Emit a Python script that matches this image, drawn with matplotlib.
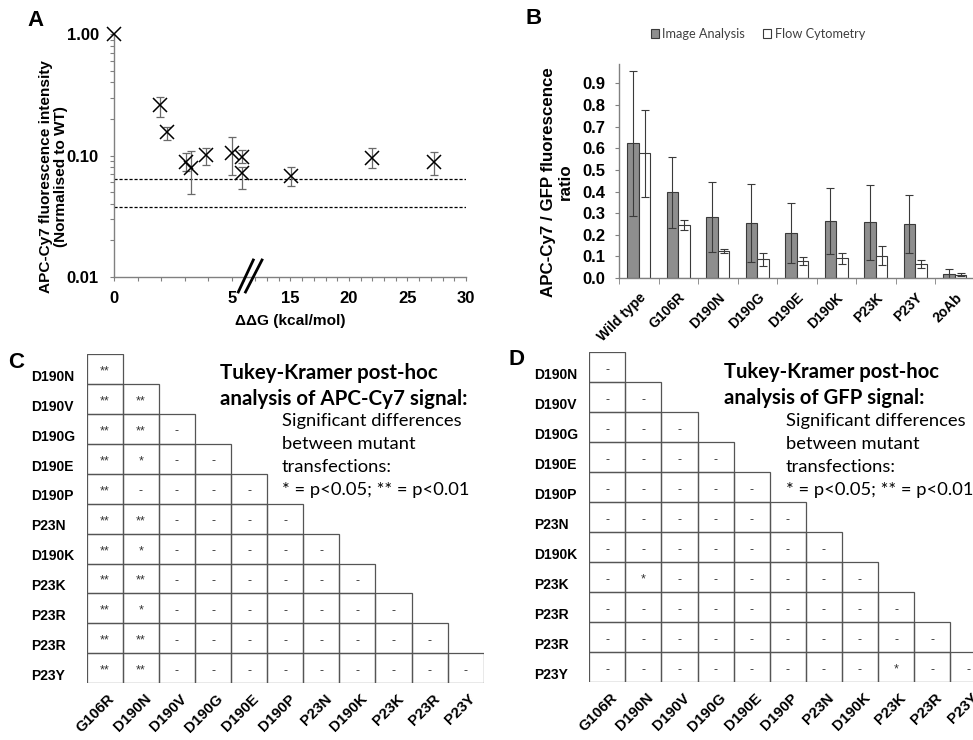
import numpy as np
import matplotlib
matplotlib.use('Agg')
import matplotlib.pyplot as plt
from matplotlib.patches import Rectangle
from matplotlib.lines import Line2D
from matplotlib.ticker import FixedLocator, NullFormatter

# ---------------- Panel A data ----------------
ddg = [0, 1.95, 2.26, 3.04, 3.26, 3.89, 5.0, 10.87, 10.87, 15.05, 22.0, 27.3]
intensity = [1.0, 0.26, 0.155, 0.088, 0.079, 0.101, 0.105, 0.098, 0.0716, 0.068, 0.096, 0.088]
int_upper = [1.0, 0.305, 0.173, 0.105, 0.109, 0.115, 0.142, 0.111, 0.081, 0.081, 0.115, 0.106]
int_lower = [1.0, 0.209, 0.133, 0.074, 0.048, 0.084, 0.069, 0.087, 0.053, 0.056, 0.079, 0.069]
thresholds = [0.0643, 0.0376]
a_xticks = [0, 5, 15, 20, 25, 30]
a_xminor = [0, 1, 2, 3, 4, 5, 11, 12, 13, 14, 15, 16, 17, 18, 19, 20,
            21, 22, 23, 24, 25, 26, 27, 28, 29, 30]
a_yticks = [0.01, 0.1, 1.0]
a_yticklabels = ['0.01', '0.10', '1.00']

# ---------------- Panel B data ----------------
b_categories = ['Wild type', 'G106R', 'D190N', 'D190G', 'D190E', 'D190K', 'P23K', 'P23Y', '2oAb']
image_analysis = [0.623, 0.397, 0.282, 0.254, 0.209, 0.263, 0.257, 0.251, 0.020]
image_err = [0.336, 0.165, 0.160, 0.180, 0.138, 0.152, 0.172, 0.135, 0.023]
flow_cytometry = [0.577, 0.245, 0.125, 0.086, 0.078, 0.091, 0.103, 0.066, 0.015]
flow_err = [0.200, 0.023, 0.011, 0.029, 0.020, 0.025, 0.045, 0.018, 0.008]
b_yticks = [0.0, 0.1, 0.2, 0.3, 0.4, 0.5, 0.6, 0.7, 0.8, 0.9]

# ---------------- Panels C / D data ----------------
mat_rows = ['D190N', 'D190V', 'D190G', 'D190E', 'D190P', 'P23N', 'D190K', 'P23K', 'P23R', 'P23R', 'P23Y']
mat_cols = ['G106R', 'D190N', 'D190V', 'D190G', 'D190E', 'D190P', 'P23N', 'D190K', 'P23K', 'P23R', 'P23Y']
apc_sig = [
    "**",
    "** **",
    "** ** -",
    "** * - -",
    "** - - - -",
    "** ** - - - -",
    "** * - - - - -",
    "** ** - - - - - -",
    "** * - - - - - - -",
    "** ** - - - - - - - -",
    "** ** - - - - - - - - -",
]
gfp_sig = [
    "-",
    "- -",
    "- - -",
    "- - - -",
    "- - - - -",
    "- - - - - -",
    "- - - - - - -",
    "- * - - - - - -",
    "- - - - - - - - -",
    "- - - - - - - - - -",
    "- - - - - - - - * - -",
]

W, H = 973, 740
fig = plt.figure(figsize=(W / 100, H / 100), dpi=100)
ARIAL = 'Liberation Sans'
CALIBRI = 'Lato'
plt.rcParams['font.family'] = [ARIAL, 'DejaVu Sans']
AXCOL = '#808080'


def fbox(left, top, width, height):
    return [left / W, 1 - (top + height) / H, width / W, height / H]


def fit_size(txt, target, vertical=False):
    r = fig.canvas.get_renderer()
    bb = txt.get_window_extent(r)
    cur = bb.height if vertical else bb.width
    txt.set_fontsize(txt.get_fontsize() * target / cur)


# ================= Panel A =================
axA = fig.add_axes(fbox(114, 34, 352, 243))


def fwd(x):
    x = np.asarray(x, float)
    return np.where(x <= 5, x, np.where(x >= 10, 5 + (x - 10) * 0.496, 5.0))


def inv(u):
    u = np.asarray(u, float)
    return np.where(u <= 5, u, 10 + (u - 5) / 0.496)


axA.set_xscale('function', functions=(fwd, inv))
axA.set_yscale('log')
axA.set_xlim(0, 30)
axA.set_ylim(0.01, 1.0)

for t in thresholds:
    axA.axhline(t, color='black', lw=0.9, ls=(0, (2.5, 1.5)))

vals = np.array(intensity)
lo = vals - np.array(int_lower)
hi = np.array(int_upper) - vals
axA.errorbar(ddg[1:], intensity[1:], yerr=[lo[1:], hi[1:]], fmt='none',
             ecolor='#6a6a6a', elinewidth=0.9, capsize=2.6, capthick=0.9)
axA.plot(ddg, intensity, 'x', ms=9.5, mew=1.1, color='black', clip_on=False, zorder=5)

for s in ['top', 'right']:
    axA.spines[s].set_visible(False)
for s in ['left', 'bottom']:
    axA.spines[s].set_color(AXCOL)
    axA.spines[s].set_linewidth(1.0)

axA.xaxis.set_major_locator(FixedLocator(a_xticks))
axA.set_xticklabels([str(v) for v in a_xticks])
axA.xaxis.set_minor_locator(FixedLocator(a_xminor))
axA.xaxis.set_minor_formatter(NullFormatter())
axA.yaxis.set_major_locator(FixedLocator(a_yticks))
axA.set_yticklabels(a_yticklabels)
axA.tick_params(which='both', direction='out', color=AXCOL, length=3, width=0.8)
axA.tick_params(axis='x', which='major', labelsize=12, pad=7)
axA.tick_params(axis='y', which='major', labelsize=12, pad=8)
for lab in axA.get_xticklabels() + axA.get_yticklabels():
    lab.set_fontweight('bold')

tA = axA.text((53.5 - 114) / 352, (277 - 177) / 243,
              'APC-Cy7 fluorescence intensity\n(Normalised to WT)',
              transform=axA.transAxes, rotation=90, ha='center', va='center',
              fontsize=10, fontweight='bold', linespacing=1.15)
fit_size(tA, 233, vertical=True)
tAx = fig.text(290 / W, 1 - 321 / H, 'ΔΔG (kcal/mol)', ha='center', va='center',
               fontsize=10, fontweight='bold')
fit_size(tAx, 110)

# axis-break marks
for x0, x1 in [(238.3, 253.3), (245.5, 262.0)]:
    fig.add_artist(Line2D([x0 / W, x1 / W], [1 - 292 / H, 1 - 260 / H],
                          color='black', lw=2.0))

fig.text(35 / W, 1 - 20 / H, 'A', fontsize=16, fontweight='bold', ha='center', va='center')

# ================= Panel B =================
axB = fig.add_axes(fbox(619, 64, 355.5, 214))
xb = np.arange(len(b_categories))
bw = 0.295
axB.bar(xb - bw / 2, image_analysis, bw, color='#8e8e8e', edgecolor='#3a3a3a', lw=0.8,
        yerr=image_err, error_kw=dict(ecolor='#3a3a3a', elinewidth=0.8, capsize=2.6, capthick=0.8),
        label='Image Analysis')
axB.bar(xb + bw / 2, flow_cytometry, bw, color='white', edgecolor='#3a3a3a', lw=0.8,
        yerr=flow_err, error_kw=dict(ecolor='#3a3a3a', elinewidth=0.8, capsize=2.6, capthick=0.8),
        label='Flow Cytometry')
axB.set_xlim(-0.5, len(b_categories) - 0.5)
axB.set_ylim(0, 0.99)
for s in ['top', 'right']:
    axB.spines[s].set_visible(False)
for s in ['left', 'bottom']:
    axB.spines[s].set_color(AXCOL)
    axB.spines[s].set_linewidth(1.0)
axB.set_yticks(b_yticks)
axB.set_yticklabels(['%.1f' % v for v in b_yticks])
axB.set_xticks(xb)
axB.set_xticklabels(b_categories, rotation=45, ha='right', rotation_mode='anchor')
axB.xaxis.set_minor_locator(FixedLocator(np.arange(len(b_categories) + 1) - 0.5))
axB.tick_params(axis='x', which='major', length=0, pad=9, labelsize=10)
axB.tick_params(axis='x', which='minor', length=4, color=AXCOL, direction='out')
axB.tick_params(axis='y', which='major', length=3, color=AXCOL, direction='out', labelsize=12, pad=7)
for lab in axB.get_xticklabels() + axB.get_yticklabels():
    lab.set_fontweight('bold')

tB = axB.text((557 - 619) / 355.5, (278 - 182) / 214,
              'APC-Cy7 / GFP fluorescence\nratio', transform=axB.transAxes,
              rotation=90, ha='center', va='center', fontsize=11, fontweight='bold',
              linespacing=1.1)
fit_size(tB, 230, vertical=True)

leg = axB.legend(loc='center', bbox_to_anchor=(758 / W, 1 - 34 / H), bbox_transform=fig.transFigure,
                 ncol=2, frameon=False, handlelength=0.6, handleheight=0.6,
                 handletextpad=0.3, columnspacing=1.4,
                 prop={'family': CALIBRI, 'size': 9.2})
for t in leg.get_texts():
    t.set_color('#404040')

fig.text(534 / W, 1 - 18 / H, 'B', fontsize=16, fontweight='bold', ha='center', va='center')


# ================= Panels C & D =================
def draw_matrix(ax, sig):
    n = len(mat_cols)
    for i, rowstr in enumerate(sig):
        for j, s in enumerate(rowstr.split()):
            ax.add_patch(Rectangle((j, i), 1, 1, fill=False, ec='#555555', lw=0.9))
            ax.text(j + 0.5, i + 0.68, s, ha='center', va='baseline', fontsize=9, color='#333333')
    for i, lab in enumerate(mat_rows):
        ax.text(-1.54, i + 0.76, lab, ha='left', va='center', fontsize=10, fontweight='bold')
    for j, lab in enumerate(mat_cols):
        ax.text(j + 0.58, n + 0.27, lab, rotation=45, ha='right', va='top',
                rotation_mode='anchor', fontsize=10.8, fontweight='bold')
    ax.set_xlim(0, n)
    ax.set_ylim(n, 0)
    ax.axis('off')


axC = fig.add_axes(fbox(86.7, 354, 397, 329.3))
draw_matrix(axC, apc_sig)
axD = fig.add_axes(fbox(589.3, 352.3, 397, 330))
draw_matrix(axD, gfp_sig)

for tl, tleft, ttop, sleft, twidth in [
        ('Tukey-Kramer post-hoc\nanalysis of APC-Cy7 signal:', 220, 363, 282, 248),
        ('Tukey-Kramer post-hoc\nanalysis of GFP signal:', 724, 362, 786, 216)]:
    tt = fig.text(tleft / W, 1 - ttop / H, tl, ha='left', va='top', family=CALIBRI,
                  fontweight='bold', fontsize=15, linespacing=1.4)
    fit_size(tt, twidth)
    st = fig.text(sleft / W, 1 - 413 / H,
                  'Significant differences\nbetween mutant\ntransfections:\n* = p<0.05; ** = p<0.01',
                  ha='left', va='top', family=CALIBRI, fontsize=12, linespacing=1.55)
    fit_size(st, 187)

fig.text(16 / W, 1 - 363 / H, 'C', fontsize=16, fontweight='bold', ha='center', va='center')
fig.text(517 / W, 1 - 359 / H, 'D', fontsize=16, fontweight='bold', ha='center', va='center')

fig.savefig('out.png', dpi=100)
